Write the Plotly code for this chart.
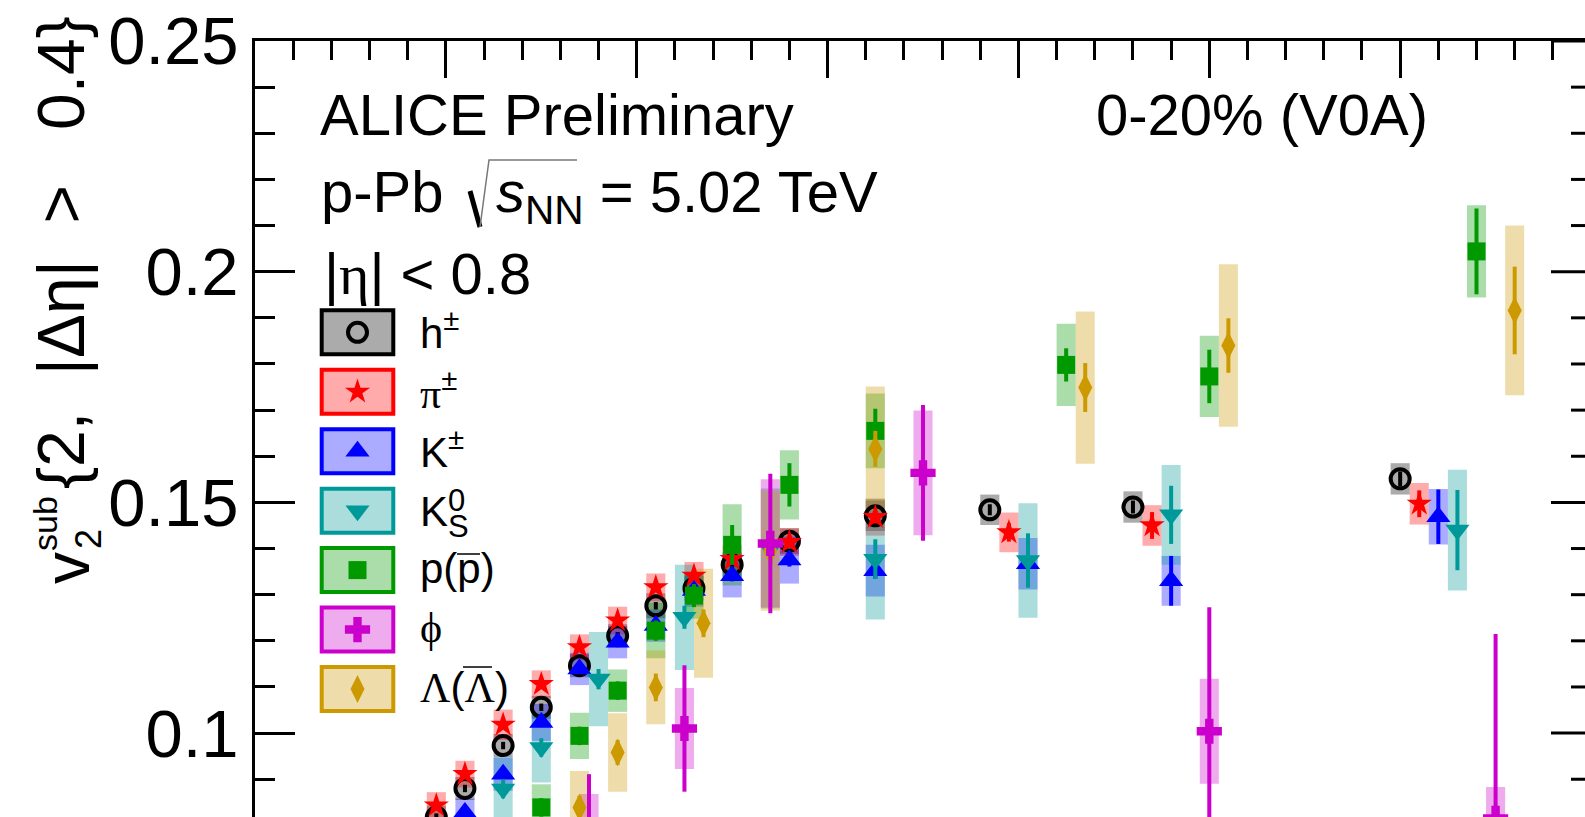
import plotly.graph_objects as go

# ---------------- data: v2 vs pT (GeV/c) ----------------
# h+-
h_pt = [0.95, 1.10, 1.30, 1.50, 1.70, 1.90, 2.10, 2.30, 2.50, 2.80, 3.25, 3.85, 4.60, 6.00]
h_v2 = [0.0818, 0.0880, 0.0973, 0.1056, 0.1146, 0.1211, 0.1276, 0.1314, 0.1365, 0.1416, 0.1471, 0.1484, 0.1490, 0.1551]
h_stat = [0.0008, 0.0008, 0.0008, 0.0008, 0.0008, 0.0008, 0.0008, 0.0008, 0.0008, 0.0009, 0.0010, 0.0012, 0.0014, 0.0016]
h_sys = [0.0025, 0.0025, 0.0025, 0.0025, 0.0025, 0.0025, 0.0027, 0.0027, 0.0027, 0.0028, 0.0033, 0.0033, 0.0034, 0.0034]
# pi+-
pi_pt = [0.95, 1.10, 1.30, 1.50, 1.70, 1.90, 2.10, 2.30, 2.50, 2.80, 3.25, 3.95, 4.70, 6.10]
pi_v2 = [0.0843, 0.0911, 0.1018, 0.1106, 0.1186, 0.1244, 0.1316, 0.1341, 0.1377, 0.1414, 0.1468, 0.1435, 0.1450, 0.1497]
pi_stat = [0.0008, 0.0008, 0.0008, 0.0008, 0.0008, 0.0008, 0.0009, 0.0010, 0.0010, 0.0011, 0.0013, 0.0020, 0.0029, 0.0029]
pi_sys = [0.0029, 0.0029, 0.0033, 0.0030, 0.0028, 0.0030, 0.0030, 0.0030, 0.0030, 0.0030, 0.0040, 0.0043, 0.0044, 0.0045]
# K+-
k_pt = [1.10, 1.30, 1.50, 1.70, 1.90, 2.10, 2.30, 2.50, 2.80, 3.25, 4.05, 4.80, 6.20]
k_v2 = [0.0828, 0.0911, 0.1023, 0.1139, 0.1197, 0.1233, 0.1309, 0.1341, 0.1375, 0.1352, 0.1367, 0.1330, 0.1469]
k_stat = [0.0010, 0.0010, 0.0010, 0.0010, 0.0010, 0.0010, 0.0011, 0.0012, 0.0014, 0.0018, 0.0025, 0.0054, 0.0059]
k_sys = [0.0030, 0.0036, 0.0040, 0.0035, 0.0035, 0.0035, 0.0035, 0.0047, 0.0051, 0.0056, 0.0056, 0.0054, 0.0060]
# K0S
k0_pt = [1.30, 1.50, 1.80, 2.25, 2.70, 3.25, 4.05, 4.80, 6.30]
k0_v2 = [0.0879, 0.0969, 0.1117, 0.1251, 0.1400, 0.1377, 0.1374, 0.1473, 0.1440]
k0_stat = [0.0020, 0.0020, 0.0022, 0.0025, 0.0030, 0.0043, 0.0059, 0.0063, 0.0087]
k0_sys = [0.0070, 0.0076, 0.0102, 0.0114, 0.0130, 0.0131, 0.0124, 0.0108, 0.0131]
# p(pbar)
p_pt = [1.50, 1.70, 1.90, 2.10, 2.30, 2.50, 2.80, 3.25, 4.25, 5.00, 6.40]
p_v2 = [0.0839, 0.0994, 0.1092, 0.1222, 0.1298, 0.1408, 0.1538, 0.1655, 0.1798, 0.1773, 0.2044]
p_stat = [0.0020, 0.0020, 0.0020, 0.0022, 0.0025, 0.0043, 0.0047, 0.0048, 0.0036, 0.0058, 0.0093]
p_sys = [0.0050, 0.0050, 0.0046, 0.0060, 0.0050, 0.0088, 0.0075, 0.0081, 0.0089, 0.0088, 0.0100]
# phi
phi_pt = [1.75, 2.25, 2.70, 3.50, 5.00, 6.50]
phi_v2 = [0.0790, 0.1010, 0.1411, 0.1564, 0.1004, 0.0815]
phi_stat = [0.0121, 0.0137, 0.0151, 0.0147, 0.0269, 0.0400]
phi_sys = [0.0078, 0.0088, 0.0139, 0.0135, 0.0114, 0.0068]
# Lambda
lam_pt = [1.70, 1.90, 2.10, 2.35, 2.70, 3.25, 4.35, 5.10, 6.60]
lam_v2 = [0.0839, 0.0958, 0.1099, 0.1238, 0.1395, 0.1616, 0.1749, 0.1840, 0.1916]
lam_stat = [0.0025, 0.0027, 0.0030, 0.0030, 0.0030, 0.0039, 0.0053, 0.0059, 0.0095]
lam_sys = [0.0079, 0.0085, 0.0080, 0.0118, 0.0130, 0.0135, 0.0165, 0.0176, 0.0184]

y_tick_vals = [0.1, 0.15, 0.2, 0.25]
y_tick_text = ["0.1", "0.15", "0.2", "0.25"]

# ---------------- geometry ----------------
W, H = 1585, 817
M_L, M_T = 255, 41
PX_PER_PT = 190.86
PX_PER_V2 = 4614.0
X_HI = (W - M_L) / PX_PER_PT
Y_LO = 0.25 - (H - M_T) / PX_PER_V2
SANS = "Liberation Sans, Arial, Helvetica, sans-serif"
SERIF = "Liberation Serif, Times New Roman, serif"

species = [
    dict(pt=h_pt, v2=h_v2, stat=h_stat, sys=h_sys, rgb=(0, 0, 0), symbol="circle-open", size=19),
    dict(pt=pi_pt, v2=pi_v2, stat=pi_stat, sys=pi_sys, rgb=(255, 0, 0), symbol="star", size=19),
    dict(pt=k_pt, v2=k_v2, stat=k_stat, sys=k_sys, rgb=(0, 0, 255), symbol="triangle-up", size=21),
    dict(pt=k0_pt, v2=k0_v2, stat=k0_stat, sys=k0_sys, rgb=(0, 153, 153), symbol="triangle-down", size=21),
    dict(pt=p_pt, v2=p_v2, stat=p_stat, sys=p_sys, rgb=(0, 153, 0), symbol="square", size=18),
    dict(pt=phi_pt, v2=phi_v2, stat=phi_stat, sys=phi_sys, rgb=(204, 0, 204), symbol="cross", size=21),
    dict(pt=lam_pt, v2=lam_v2, stat=lam_stat, sys=lam_sys, rgb=(204, 153, 0), symbol="diamond-tall", size=20),
]
# phi points go on top of the others
DRAW_ORDER = [0, 1, 2, 3, 4, 6, 5]


def solid(rgb):
    return "rgb(%d,%d,%d)" % rgb


def faded(rgb, a=0.33):
    return "rgba(%d,%d,%d,%.2f)" % (rgb + (a,))


def marker_style(s):
    m = dict(symbol=s["symbol"], size=s["size"], color=solid(s["rgb"]), line=dict(width=0))
    if s["symbol"].endswith("open"):
        m["line"] = dict(width=4, color=solid(s["rgb"]))
    return m


fig = go.Figure()

# systematic uncertainty boxes
for s in species:
    fig.add_trace(go.Bar(
        x=s["pt"], y=[2 * e for e in s["sys"]],
        base=[v - e for v, e in zip(s["v2"], s["sys"])],
        width=0.1, marker=dict(color=faded(s["rgb"]), line=dict(width=0)),
        showlegend=False, hoverinfo="skip"))

# points with statistical error bars
for i in DRAW_ORDER:
    s = species[i]
    fig.add_trace(go.Scatter(
        x=s["pt"], y=s["v2"], mode="markers", marker=marker_style(s),
        error_y=dict(type="data", array=s["stat"], visible=True,
                     color=solid(s["rgb"]), thickness=4, width=0),
        showlegend=False, hoverinfo="skip"))

# ---------------- legend (pixel overlay axes x2/y2) ----------------
ROW0, ROW_STEP = 332.3, 59.45
BOX_X0, BOX_X1, BOX_HALF = 321.7, 393.3, 22
rows = [ROW0 + ROW_STEP * i for i in range(len(species))]
shapes = []
for s, yc in zip(species, rows):
    shapes.append(dict(type="rect", xref="x2", yref="y2", x0=BOX_X0, x1=BOX_X1,
                       y0=yc - BOX_HALF, y1=yc + BOX_HALF, fillcolor=faded(s["rgb"]),
                       line=dict(color=solid(s["rgb"]), width=4), layer="below"))
    fig.add_trace(go.Scatter(x=[(BOX_X0 + BOX_X1) / 2], y=[yc], xaxis="x2", yaxis="y2",
                             mode="markers", marker=marker_style(s),
                             showlegend=False, hoverinfo="skip"))

annotations = []


def text(x, y, t, size, xanchor="left", yanchor="middle", family=SANS, angle=0):
    # x, y given in page pixels; placed in paper coordinates
    annotations.append(dict(x=(x - M_L) / (W - M_L), y=(H - y) / (H - M_T),
                            xref="paper", yref="paper", text=t, showarrow=False,
                            xanchor=xanchor, yanchor=yanchor, textangle=angle,
                            font=dict(family=family, size=size, color="black"),
                            borderpad=0))


LEG_FS = 42
LEG_X = 419
gr = lambda c: "<span style='font-family:Liberation Serif'>%s</span>" % c
text(LEG_X, rows[0] - 2, "h<sup>±</sup>", LEG_FS)
text(LEG_X, rows[1] - 2, gr("π") + "<sup>±</sup>", LEG_FS)
text(LEG_X, rows[2] - 2, "K<sup>±</sup>", LEG_FS)
text(LEG_X, rows[3] + 1, "K", LEG_FS)
text(LEG_X + 28, rows[3] - 10, "0", 31)
text(LEG_X + 28, rows[3] + 16, "S", 31)
text(LEG_X, rows[4] - 2, "p(p)", LEG_FS)
text(LEG_X, rows[5] - 2, gr("ϕ"), LEG_FS)
text(LEG_X, rows[6] - 2, gr("Λ") + "(" + gr("Λ") + ")", LEG_FS)
# bars over the antiparticle symbols
shapes.append(dict(type="line", xref="x2", yref="y2", x0=457, x1=480, y0=554, y1=554,
                   line=dict(color="black", width=1.5)))
shapes.append(dict(type="line", xref="x2", yref="y2", x0=463, x1=492, y0=667, y1=667,
                   line=dict(color="black", width=1.5)))

# ---------------- header texts ----------------
TXT_FS = 58
text(319, 114, "ALICE Preliminary", TXT_FS)
text(1095, 114, "0-20% (V0A)", TXT_FS)
text(320, 192, "p-Pb", TXT_FS)
text(495, 196, "<i>s</i><sub>NN</sub> = 5.02 TeV", TXT_FS)
text(323, 274, "|" + gr("η") + "| < 0.8", TXT_FS)
# square-root sign
shapes.append(dict(type="path", xref="x2", yref="y2", path="M 470 191 L 480 227",
                   line=dict(color="black", width=5)))
shapes.append(dict(type="path", xref="x2", yref="y2", path="M 480 227 L 489 160 L 577 160",
                   line=dict(color="rgb(120,120,120)", width=1.5)))

# ---------------- y-axis title (rotated pieces) ----------------
NB = "\u00a0"
text(61, 253, "{2, " + NB + "|Δη|" + NB + " >" + NB + NB + " 0.4}", 66, xanchor="center", angle=-90)
text(67, 568, "v", 64, xanchor="center", angle=-90)
text(88, 539, "2", 36, xanchor="center", angle=-90)
text(45, 524, "sub", 34, xanchor="center", angle=-90)

# right-hand frame ticks (frame edge sits just past the page)
X_FRAME_R = (1591 - M_L) / (W - M_L)
minor_v = [round(0.08 + 0.01 * i, 2) for i in range(18)]
for v in minor_v:
    major = any(abs(v - t) < 1e-9 for t in y_tick_vals)
    ln = 40 if major else 20
    shapes.append(dict(type="line", xref="paper", yref="y", x0=X_FRAME_R,
                       x1=X_FRAME_R - ln / (W - M_L), y0=v, y1=v,
                       line=dict(color="black", width=3)))

fig.update_layout(
    width=W, height=H,
    margin=dict(l=M_L, r=0, t=M_T, b=0, pad=0),
    paper_bgcolor="white", plot_bgcolor="white",
    barmode="overlay", showlegend=False,
    xaxis=dict(range=[0, X_HI], side="top", showline=True, linecolor="black", linewidth=3,
               ticks="inside", ticklen=37, tickwidth=3, tickcolor="black",
               tickmode="linear", tick0=0, dtick=1, showticklabels=False,
               showgrid=False, zeroline=False,
               minor=dict(tick0=0, dtick=0.2, ticks="inside", ticklen=19, tickwidth=3,
                          tickcolor="black", showgrid=False)),
    yaxis=dict(range=[Y_LO, 0.25], showline=True, linecolor="black", linewidth=3,
               ticks="inside", ticklen=40, tickwidth=3, tickcolor="black",
               tickmode="array", tickvals=y_tick_vals, ticktext=y_tick_text,
               tickfont=dict(family=SANS, size=67, color="black"),
               ticklabelstandoff=0, showgrid=False, zeroline=False,
               minor=dict(tick0=0, dtick=0.01, ticks="inside", ticklen=20, tickwidth=3,
                          tickcolor="black", showgrid=False)),
    xaxis2=dict(overlaying="x", anchor="y2", range=[M_L, W], visible=False),
    yaxis2=dict(overlaying="y", anchor="x2", range=[H, M_T], visible=False),
    shapes=shapes, annotations=annotations,
)

fig.write_html("out.html")
